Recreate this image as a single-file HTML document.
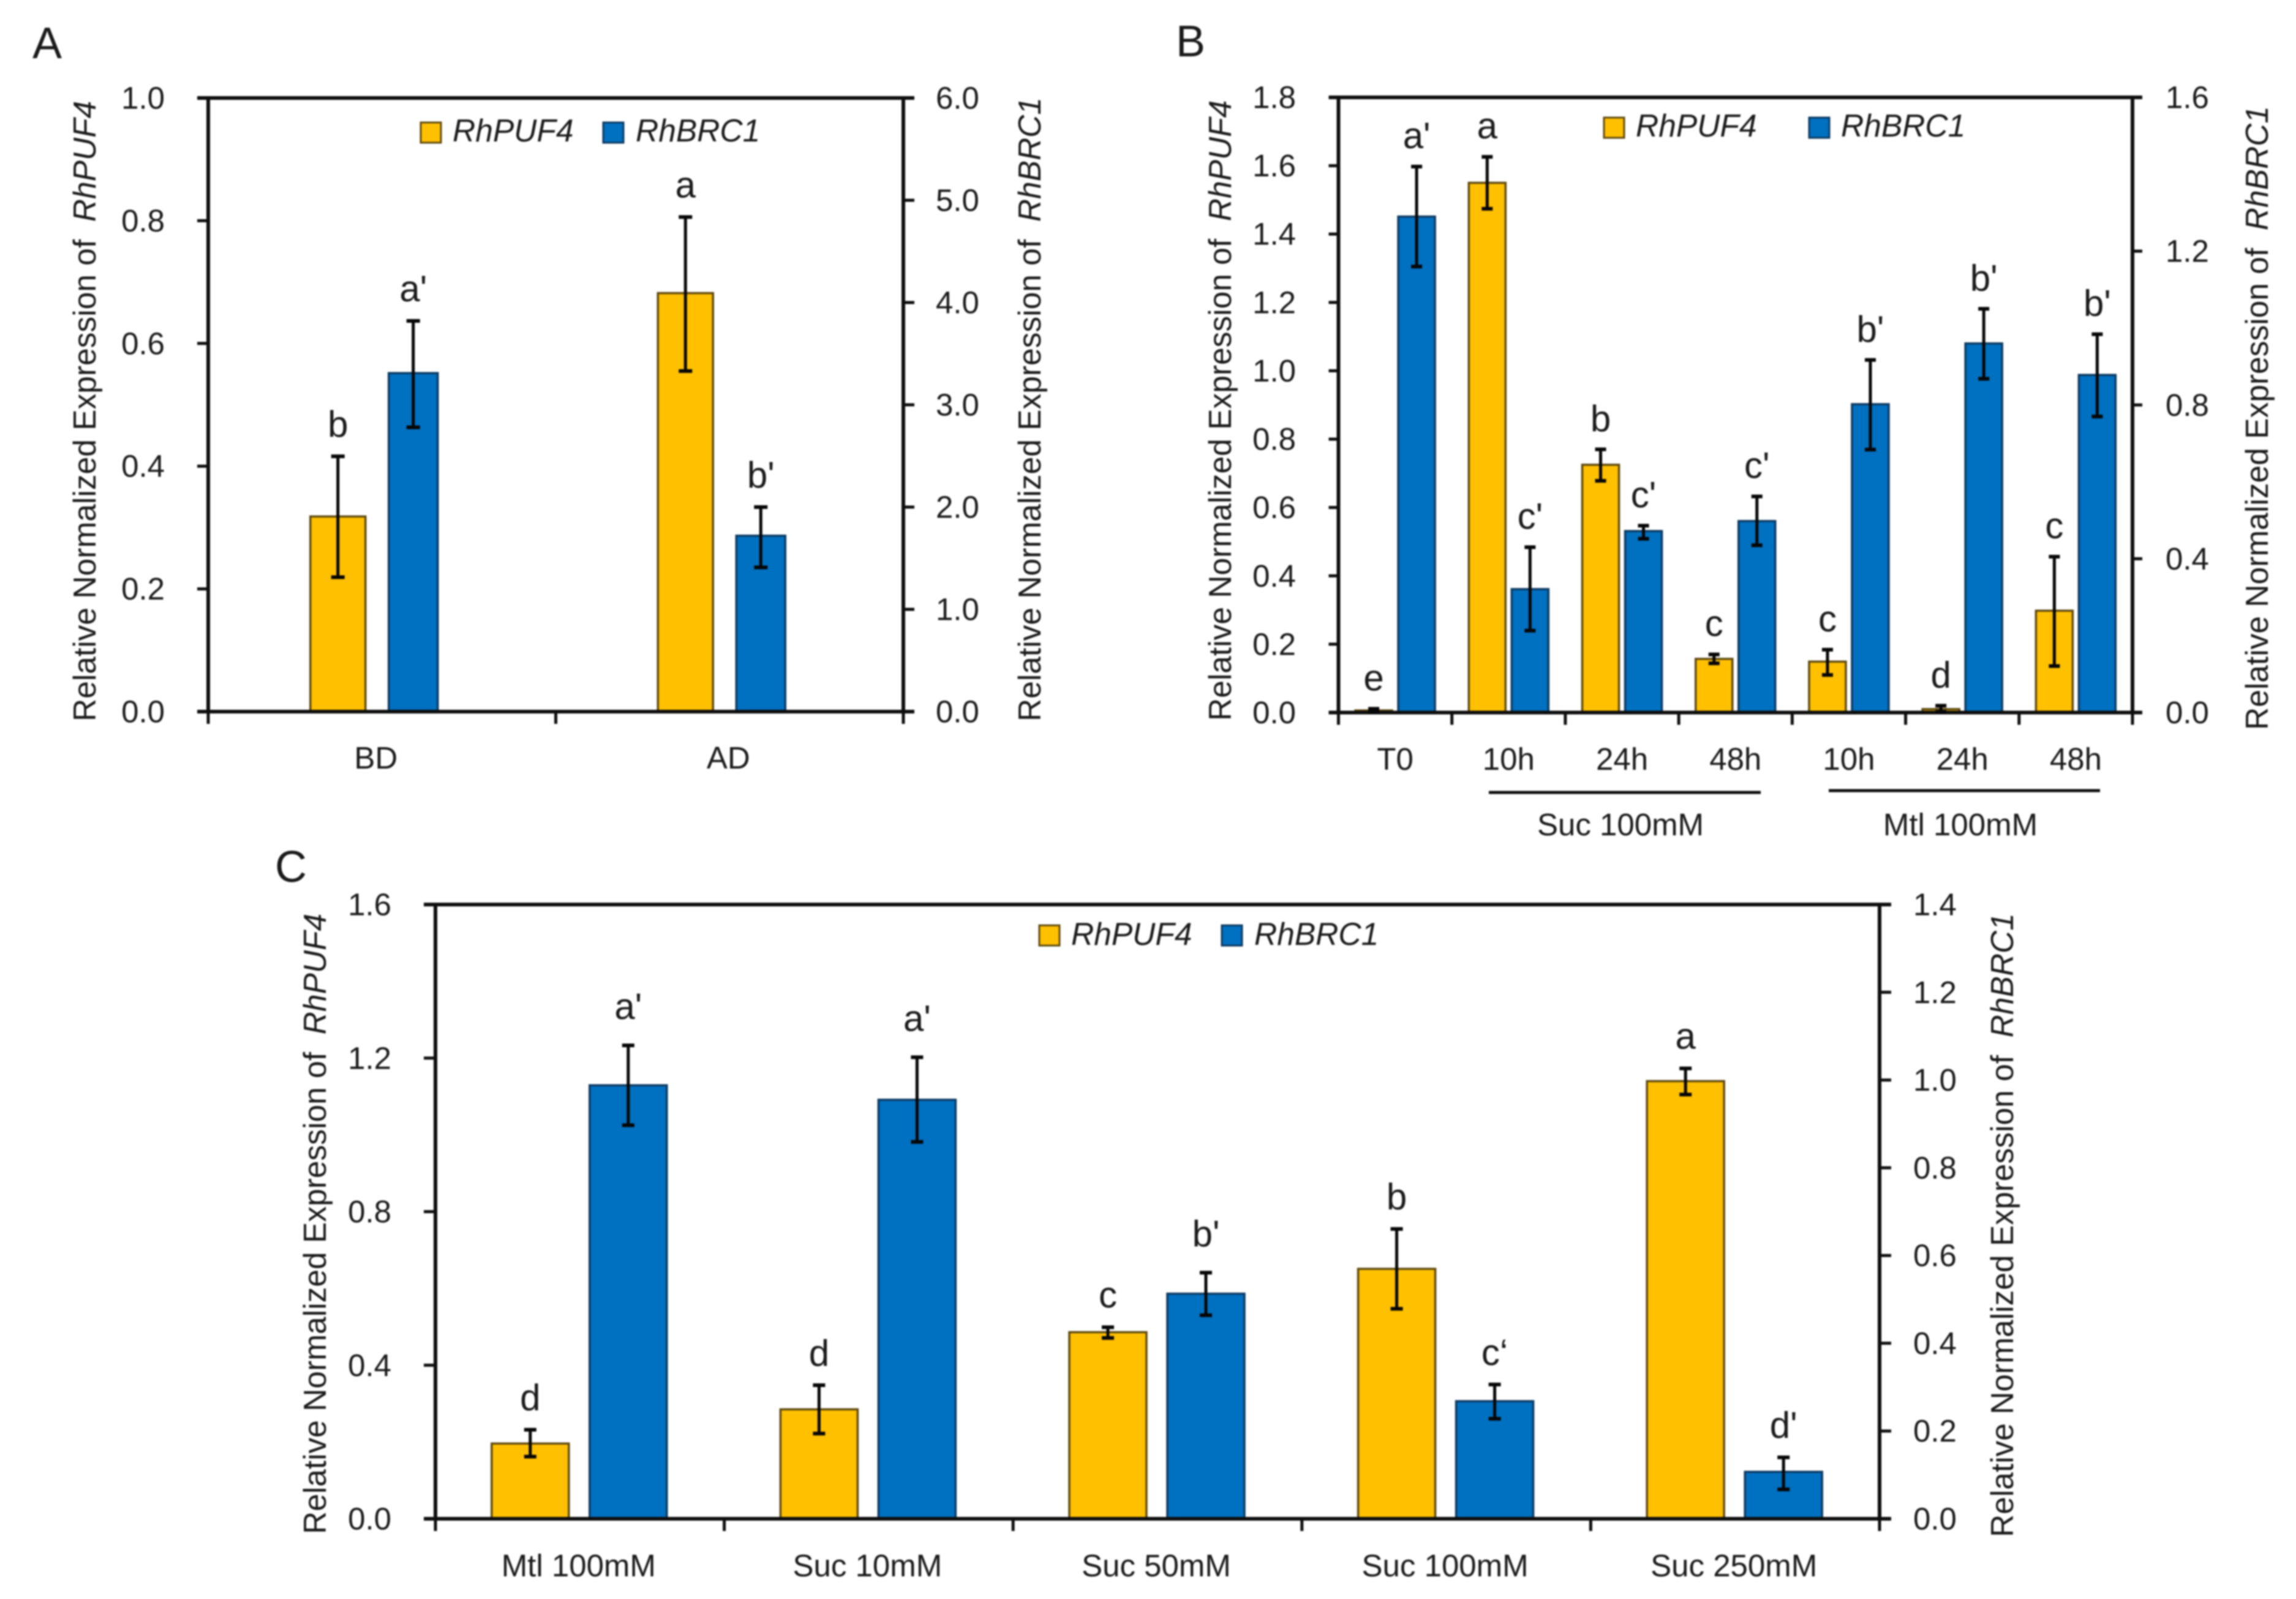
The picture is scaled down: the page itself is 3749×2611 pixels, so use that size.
<!DOCTYPE html>
<html lang="en">
<head>
<meta charset="utf-8">
<title>RhPUF4 and RhBRC1 relative expression</title>
<style>
html,body{margin:0;padding:0;background:#fff;}
body{width:3749px;height:2611px;overflow:hidden;}
svg{display:block;filter:blur(1.3px);}
text{font-family:"Liberation Sans",sans-serif;fill:#1a1a1a;white-space:pre;}
</style>
</head>
<body>
<svg id="figure" xmlns="http://www.w3.org/2000/svg" width="3749" height="2611" viewBox="0 0 3749 2611"></svg>
<script>
/* ---------- Panel A data ---------- */
const aCategories = ['BD', 'AD'];
const aLeftTicks = ['0.0', '0.2', '0.4', '0.6', '0.8', '1.0'];
const aRightTicks = ['0.0', '1.0', '2.0', '3.0', '4.0', '5.0', '6.0'];
const aPuf4 = [0.318, 0.682];
const aPuf4Hi = [0.416, 0.806];
const aPuf4Lo = [0.219, 0.555];
const aPuf4Sig = ['b', 'a'];
const aBrc1 = [3.31, 1.72];
const aBrc1Hi = [3.82, 2.0];
const aBrc1Lo = [2.78, 1.41];
const aBrc1Sig = ["a'", "b'"];

/* ---------- Panel B data ---------- */
const bCategories = ['T0', '10h', '24h', '48h', '10h', '24h', '48h'];
const bLeftTicks = ['0.0', '0.2', '0.4', '0.6', '0.8', '1.0', '1.2', '1.4', '1.6', '1.8'];
const bRightTicks = ['0.0', '0.4', '0.8', '1.2', '1.6'];
const bPuf4 = [0.006, 1.55, 0.725, 0.157, 0.149, 0.01, 0.298];
const bPuf4Hi = [0.011, 1.626, 0.77, 0.17, 0.184, 0.02, 0.456];
const bPuf4Lo = [0.002, 1.474, 0.678, 0.144, 0.11, 0.002, 0.136];
const bPuf4Sig = ['e', 'a', 'b', 'c', 'c', 'd', 'c'];
const bBrc1 = [1.29, 0.321, 0.472, 0.498, 0.802, 0.96, 0.878];
const bBrc1Hi = [1.42, 0.43, 0.486, 0.562, 0.917, 1.05, 0.984];
const bBrc1Lo = [1.16, 0.213, 0.452, 0.435, 0.684, 0.868, 0.77];
const bBrc1Sig = ["a'", "c'", "c'", "c'", "b'", "b'", "b'"];
const bGroups = ['Suc 100mM', 'Mtl 100mM'];

/* ---------- Panel C data ---------- */
const cCategories = ['Mtl 100mM', 'Suc 10mM', 'Suc 50mM', 'Suc 100mM', 'Suc 250mM'];
const cLeftTicks = ['0.0', '0.4', '0.8', '1.2', '1.6'];
const cRightTicks = ['0.0', '0.2', '0.4', '0.6', '0.8', '1.0', '1.2', '1.4'];
const cPuf4 = [0.196, 0.285, 0.486, 0.651, 1.14];
const cPuf4Hi = [0.232, 0.348, 0.499, 0.755, 1.173];
const cPuf4Lo = [0.162, 0.222, 0.471, 0.547, 1.105];
const cPuf4Sig = ['d', 'd', 'c', 'b', 'a'];
const cBrc1 = [0.988, 0.955, 0.513, 0.268, 0.107];
const cBrc1Hi = [1.079, 1.052, 0.561, 0.306, 0.14];
const cBrc1Lo = [0.897, 0.859, 0.464, 0.228, 0.067];
const cBrc1Sig = ["a'", "a'", "b'", "c\u2018", "d'"];

const SVG_NS = 'http://www.w3.org/2000/svg';
const INK = '#0e0e0e';
const YELLOW = '#FFC000';
const YELLOW_EDGE = '#5f4a10';
const BLUE = '#0070C0';
const BLUE_EDGE = '#0d3a62';
const figure = document.getElementById('figure');

function make(parent, tag, attrs, content) {
  const node = document.createElementNS(SVG_NS, tag);
  for (const key in attrs) node.setAttribute(key, attrs[key]);
  if (content !== undefined) node.textContent = content;
  parent.appendChild(node);
  return node;
}

function drawTitle(group, x, y, gene, side) {
  let el = make(group, 'text', {
    transform: 'translate(' + x + ' ' + y + ') rotate(-90)',
    'font-size': 51.5
  }, 'Relative Normalized Expression of  ');
  
  
  const italic = make(el, 'tspan', {'font-style': 'italic'}, gene);
  
  
}

function drawLegendEntry(group, sx, sy, tx, ty, fill, edge, label) {
  let el = make(group, 'rect', {x: sx, y: sy, width: 33, height: 33, fill: fill, stroke: edge, 'stroke-width': 3});
  
  
  el = make(group, 'text', {x: tx, y: ty, 'font-size': 51.5, 'font-style': 'italic'}, label);
  
  
}

function drawPanel(p) {
  const group = make(figure, 'g', {});
  
  

  const yLeftMax = parseFloat(p.leftTicks[p.leftTicks.length - 1]);
  const yRightMax = parseFloat(p.rightTicks[p.rightTicks.length - 1]);
  const yLeft = v => p.bottom - (v / yLeftMax) * (p.bottom - p.top);
  const yRight = v => p.bottom - (v / yRightMax) * (p.bottom - p.top);
  const band = (p.right - p.left) / p.categories.length;
  const xCenter = i => p.left + band * (i + 0.5);

  let el = make(group, 'text', {x: p.letterX, y: p.letterY, 'font-size': 72}, p.letter);
  
  

  /* series */
  const series = [
    {name: 'rhpuf4', vals: p.puf4, hi: p.puf4Hi, lo: p.puf4Lo, sig: p.puf4Sig, y: yLeft, fill: YELLOW, edge: YELLOW_EDGE, off: p.yellowOffset, w: p.yellowWidth},
    {name: 'rhbrc1', vals: p.brc1, hi: p.brc1Hi, lo: p.brc1Lo, sig: p.brc1Sig, y: yRight, fill: BLUE, edge: BLUE_EDGE, off: p.blueOffset, w: p.blueWidth}
  ];
  series.forEach(function (s, si) {
    s.vals.forEach(function (v, i) {
      const cx = xCenter(i) + s.off;
      const yTop = s.y(v);
      let bar = make(group, 'rect', {x: cx - s.w / 2, y: yTop, width: s.w, height: p.bottom - yTop, fill: s.fill, stroke: s.edge, 'stroke-width': 3.5});
      
      
    });
  });

  /* axes */
  el = make(group, 'line', {x1: p.left - p.tick, x2: p.right + p.tick, y1: p.top, y2: p.top, stroke: INK, 'stroke-width': 6});
  
  
  el = make(group, 'line', {x1: p.left - p.tick, x2: p.right + p.tick, y1: p.bottom, y2: p.bottom, stroke: INK, 'stroke-width': 6});
  
  
  el = make(group, 'line', {x1: p.left, x2: p.left, y1: p.top, y2: p.bottom, stroke: INK, 'stroke-width': 6});
  
  
  el = make(group, 'line', {x1: p.right, x2: p.right, y1: p.top, y2: p.bottom, stroke: INK, 'stroke-width': 6});
  
  

  p.leftTicks.forEach(function (t) {
    const y = yLeft(parseFloat(t));
    let tick = make(group, 'line', {x1: p.left - p.tick, x2: p.left, y1: y, y2: y, stroke: INK, 'stroke-width': 5});
    
    
    let label = make(group, 'text', {x: p.leftLabelX, y: y + 17.5, 'font-size': 51, 'text-anchor': 'end'}, t);
    
    
  });
  p.rightTicks.forEach(function (t) {
    const y = yRight(parseFloat(t));
    let tick = make(group, 'line', {x1: p.right, x2: p.right + p.tick, y1: y, y2: y, stroke: INK, 'stroke-width': 5});
    
    
    let label = make(group, 'text', {x: p.rightLabelX, y: y + 17.5, 'font-size': 51}, t);
    
    
  });
  for (let i = 0; i <= p.categories.length; i++) {
    const x = p.left + band * i;
    let tick = make(group, 'line', {x1: x, x2: x, y1: p.bottom, y2: p.bottom + 20, stroke: INK, 'stroke-width': 5});
    
    
  }
  p.categories.forEach(function (c, i) {
    let label = make(group, 'text', {x: xCenter(i) + p.catNudge(i), y: p.catY, 'font-size': 51, 'text-anchor': 'middle'}, c);
    
    
  });

  /* error bars and significance letters */
  series.forEach(function (s, si) {
    s.vals.forEach(function (v, i) {
      const cx = xCenter(i) + s.off;
      const yHi = s.y(s.hi[i]);
      const yLo = s.y(s.lo[i]);
      const cap = p.cap;
      let stem = make(group, 'line', {x1: cx, x2: cx, y1: yHi, y2: yLo, stroke: '#060606', 'stroke-width': 5});
      
      
      let capTop = make(group, 'line', {x1: cx - cap, x2: cx + cap, y1: yHi, y2: yHi, stroke: '#060606', 'stroke-width': 6});
      
      
      let capLow = make(group, 'line', {x1: cx - cap, x2: cx + cap, y1: yLo, y2: yLo, stroke: '#060606', 'stroke-width': 6});
      
      
      let sig = make(group, 'text', {x: cx, y: yHi - p.sigGap(si, i), 'font-size': 60, 'text-anchor': 'middle'}, s.sig[i]);
      
      
    });
  });

  /* titles and legend */
  drawTitle(group, p.titleLeftX, p.titleLeftY, 'RhPUF4', 'left');
  drawTitle(group, p.titleRightX, p.titleRightY, 'RhBRC1', 'right');
  const legend = make(group, 'g', {});
  
  
  drawLegendEntry(legend, p.legend[0], p.legend[1], p.legend[2], p.legend[3], YELLOW, YELLOW_EDGE, 'RhPUF4');
  drawLegendEntry(legend, p.legend[4], p.legend[1], p.legend[5], p.legend[3], BLUE, BLUE_EDGE, 'RhBRC1');
  return group;
}

drawPanel({
  id: 'a', letter: 'A', letterX: 53, letterY: 95,
  left: 340, right: 1475, top: 160, bottom: 1162, tick: 18,
  categories: aCategories, leftTicks: aLeftTicks, rightTicks: aRightTicks,
  puf4: aPuf4, puf4Hi: aPuf4Hi, puf4Lo: aPuf4Lo, puf4Sig: aPuf4Sig,
  brc1: aBrc1, brc1Hi: aBrc1Hi, brc1Lo: aBrc1Lo, brc1Sig: aBrc1Sig,
  yellowOffset: -72, blueOffset: 51, yellowWidth: 90, blueWidth: 80, cap: 11,
  sigGap: () => 32, catNudge: i => (i === 0 ? -10 : -2), catY: 1255,
  leftLabelX: 269, rightLabelX: 1528,
  titleLeftX: 156, titleLeftY: 1178, titleRightX: 1699, titleRightY: 1178,
  legend: [687, 200, 739, 231, 985, 1038]
});

const panelB = drawPanel({
  id: 'b', letter: 'B', letterX: 1920, letterY: 92,
  left: 2185.5, right: 3482, top: 159, bottom: 1163.5, tick: 16,
  categories: bCategories, leftTicks: bLeftTicks, rightTicks: bRightTicks,
  puf4: bPuf4, puf4Hi: bPuf4Hi, puf4Lo: bPuf4Lo, puf4Sig: bPuf4Sig,
  brc1: bBrc1, brc1Hi: bBrc1Hi, brc1Lo: bBrc1Lo, brc1Sig: bBrc1Sig,
  yellowOffset: -35, blueOffset: 35, yellowWidth: 60, blueWidth: 60, cap: 9,
  sigGap: () => 30, catNudge: () => 0, catY: 1257,
  leftLabelX: 2116, rightLabelX: 3536,
  titleLeftX: 2010, titleLeftY: 1177, titleRightX: 3703, titleRightY: 1192,
  legend: [2619, 192, 2671, 223, 2954, 3006]
});

[[2431, 2875, 1294, 2646, 0], [2986, 3429, 1291, 3201, 1]].forEach(function (g) {
  let el = make(panelB, 'line', {x1: g[0], x2: g[1], y1: g[2], y2: g[2], stroke: INK, 'stroke-width': 5});
  
  
  el = make(panelB, 'text', {x: g[3], y: 1364, 'font-size': 51, 'text-anchor': 'middle'}, bGroups[g[4]]);
  
  
});

drawPanel({
  id: 'c', letter: 'C', letterX: 449, letterY: 1440,
  left: 711, right: 3069, top: 1477, bottom: 2480, tick: 19,
  categories: cCategories, leftTicks: cLeftTicks, rightTicks: cRightTicks,
  puf4: cPuf4, puf4Hi: cPuf4Hi, puf4Lo: cPuf4Lo, puf4Sig: cPuf4Sig,
  brc1: cBrc1, brc1Hi: cBrc1Hi, brc1Lo: cBrc1Lo, brc1Sig: cBrc1Sig,
  yellowOffset: -81, blueOffset: 79, yellowWidth: 126, blueWidth: 126, cap: 10,
  sigGap: (s, i) => (s === 1 && i < 3 ? 43 : 32), catNudge: () => -2, catY: 2574,
  leftLabelX: 639, rightLabelX: 3124,
  titleLeftX: 532, titleLeftY: 2505, titleRightX: 3287, titleRightY: 2510,
  legend: [1697, 1511, 1749, 1543, 1995, 2048]
});
</script>
</body>
</html>
